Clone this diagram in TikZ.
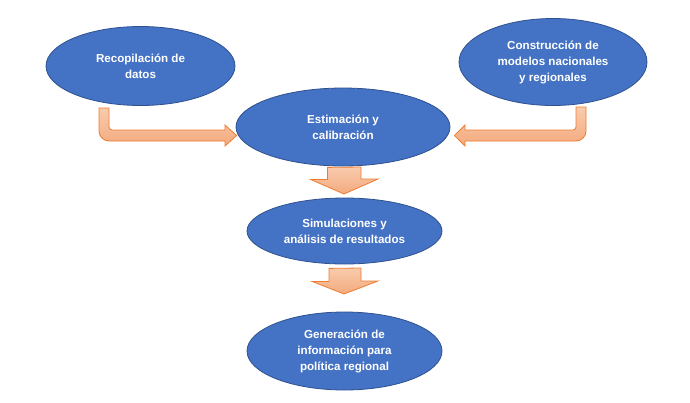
\documentclass[tikz,border=0pt]{standalone}
\usepackage{fontspec}
\setmainfont{Liberation Sans}
\usetikzlibrary{shapes.geometric}
\definecolor{ellfill}{HTML}{4472C4}
\definecolor{elldraw}{HTML}{2F528F}
\definecolor{arrdraw}{HTML}{ED7D31}
\definecolor{arrtop}{HTML}{F8CBAD}
\definecolor{arrbot}{HTML}{F4AA7E}
\tikzset{
  stage/.style={ellipse, fill=ellfill, draw=elldraw, line width=0.8pt, inner sep=0pt,
    text=white, font=\fontsize{11.6}{16}\selectfont\bfseries, align=center},
  flowarrow/.style={draw=arrdraw, line width=0.8pt, top color=arrtop, bottom color=arrbot, line join=miter},
}
\begin{document}
\begin{tikzpicture}[x=1pt,y=-1pt]
\useasboundingbox[fill=white] (0,0) rectangle (690,402);
% ellipses
\node[stage, minimum width=189pt, minimum height=79pt] (rec) at (140.5,66) {Recopilación de\\datos};
\node[stage, minimum width=188pt, minimum height=87pt] (con) at (553,62) {Construcción de\\modelos nacionales\\y regionales};
\node[stage, minimum width=214pt, minimum height=78pt] (est) at (343,127) {Estimación y\\calibración};
\node[stage, minimum width=195pt, minimum height=66pt] (sim) at (344.5,231) {Simulaciones y\\análisis de resultados};
\node[stage, minimum width=195pt, minimum height=78pt] (gen) at (344.5,351) {Generación de\\información para\\política regional};
% bent arrow left
\coordinate (lstart) at (104,108);
\coordinate (ltip) at (est.west);
\draw[flowarrow] ([xshift=-5pt]lstart) [rounded corners=10pt] -- (99,141) [sharp corners] -- (225,141) -- (225,146) -- ([xshift=1pt]ltip |- 0,135.5) -- (225,125) -- (225,130) [rounded corners=3pt] -- (109,130) [sharp corners] -- ([xshift=5pt]lstart) -- cycle;
% bent arrow right
\coordinate (rstart) at (581,107);
\coordinate (rtip) at (est.east);
\draw[flowarrow] ([xshift=5pt]rstart) [rounded corners=10pt] -- (586,141) [sharp corners] -- (465,141) -- (465,146) -- ([xshift=4pt]rtip |- 0,135.5) -- (465,125) -- (465,130) [rounded corners=3pt] -- (576,130) [sharp corners] -- ([xshift=-5pt]rstart) -- cycle;
% down arrows
\coordinate (d1tip) at (344,194);
\coordinate (d2tip) at (344,294);
\draw[flowarrow] ([xshift=-15.5pt,yshift=-1pt]est.south) -- ++(0,12) -- ++(-17,0) -- (d1tip) -- ++(34,-15) -- ++(-17,0) -- ++(0,-12) -- cycle;
\draw[flowarrow] ([xshift=-15.5pt,yshift=-4pt]sim.south) -- ++(0,13) -- ++(-17,0) -- (d2tip) -- ++(34,-13) -- ++(-17,0) -- ++(0,-13) -- cycle;
\end{tikzpicture}
\end{document}
